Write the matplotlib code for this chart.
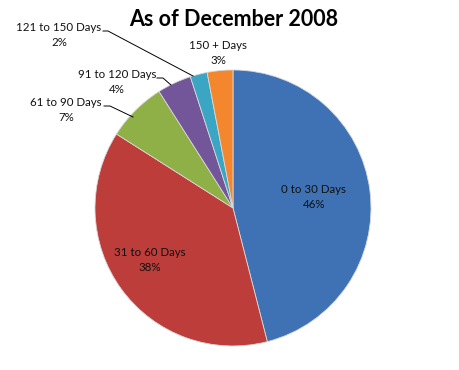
import matplotlib.pyplot as plt

# data
labels = ["0 to 30 Days", "31 to 60 Days", "61 to 90 Days",
          "91 to 120 Days", "121 to 150 Days", "150 + Days"]
shares = [46, 38, 7, 4, 2, 3]
colors = ["#3f72b5", "#bc3d3a", "#8fb046", "#73559a", "#3aa6c3", "#f4862e"]

plt.rcParams["font.family"] = ["Lato", "DejaVu Sans"]

fig = plt.figure(figsize=(4.6, 3.7), dpi=100)
ax = fig.add_axes([0.2065, 0.0649, 0.6, 0.746])

wedges, _ = ax.pie(shares, colors=colors, startangle=90, counterclock=False,
                   wedgeprops=dict(edgecolor="#d8d8d8", linewidth=0.6))
ax.set_aspect("equal")
ax.set_xlim(-1, 1)
ax.set_ylim(-1, 1)

fig.suptitle("As of December 2008", x=0.507, y=0.976, fontsize=15.5,
             fontweight="bold")

# label positions in figure pixels (x, y from top)
def fx(px):
    return px / 460

def fy(py):
    return 1 - py / 370

lab_pos = [(314, 197), (150, 260), (66, 110), (117, 82), (59, 35), (218, 53)]
for name, val, (px, py) in zip(labels, shares, lab_pos):
    fig.text(fx(px), fy(py), f"{name}\n{val}%", ha="center", va="center",
             fontsize=8.3, color="#111111", linespacing=1.5)

# leader lines for the small outside slices
leaders = [
    [(104, 106), (110, 106), (133, 117)],
    [(157, 78), (163, 78), (171, 85)],
    [(103, 31), (108, 31), (193, 76)],
]
for pts in leaders:
    fig.add_artist(plt.Line2D([fx(p[0]) for p in pts], [fy(p[1]) for p in pts],
                              color="black", lw=0.7, transform=fig.transFigure))

fig.savefig("out.png", dpi=100, facecolor="white")
